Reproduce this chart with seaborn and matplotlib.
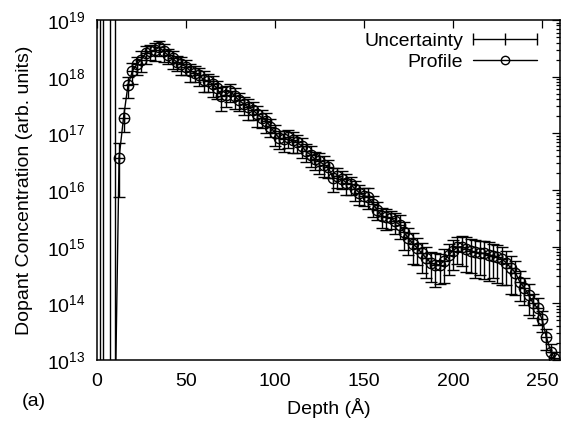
import numpy as np
import pandas as pd
import matplotlib
matplotlib.use("Agg")
import matplotlib.pyplot as plt
import seaborn as sns
from matplotlib.lines import Line2D
from matplotlib.legend_handler import HandlerLine2D
from matplotlib.ticker import NullFormatter

# ---- data ----
depth = [1.7, 3.5, 7.3, 10.1,
         12.4, 14.9, 17.4, 19.9, 22.4, 24.9, 27.4, 29.9, 32.4, 34.9,
         37.4, 39.9, 42.4, 44.9, 47.4, 49.9, 52.4, 54.9, 57.4, 59.9,
         62.4, 64.9, 67.4, 69.9, 72.4, 74.9, 77.4, 79.9, 82.4, 84.9,
         87.4, 89.9, 92.4, 94.9, 97.4, 99.9, 102.4, 104.9, 107.4, 109.9,
         112.4, 114.9, 117.4, 119.9, 122.4, 124.9, 127.4, 129.9, 132.4, 134.9,
         137.4, 139.9, 142.4, 144.9, 147.4, 149.9, 152.4, 154.9, 157.4, 159.9,
         162.4, 164.9, 167.4, 169.9, 172.4, 174.9, 177.4, 179.9, 182.4, 184.9,
         187.4, 189.9, 192.4, 194.9, 197.4, 199.9, 202.4, 204.9, 207.4, 209.9,
         212.4, 214.9, 217.4, 219.9, 222.4, 224.9, 227.4, 229.9, 232.4, 234.9,
         237.4, 239.9, 242.4, 244.9, 247.4, 249.9, 252.4, 254.9, 256.9]

conc = [1e12, 1e12, 1e12, 1e12,
        3.7e16, 1.9e17, 7.1e17, 1.26e18, 1.66e18, 2.0e18, 2.6e18, 2.8e18, 2.95e18, 3.3e18,
        2.8e18, 2.4e18, 2.1e18, 1.8e18, 1.66e18, 1.5e18, 1.26e18, 1.17e18, 1.05e18, 8.9e17,
        8.3e17, 7.4e17, 6.3e17, 4.5e17, 4.8e17, 5.5e17, 4.5e17, 3.8e17, 3.3e17, 2.9e17,
        2.6e17, 2.2e17, 1.9e17, 1.66e17, 1.32e17, 1.0e17, 8.3e16, 7.9e16, 8.5e16, 7.6e16,
        6.9e16, 6.0e16, 4.8e16, 4.2e16, 3.5e16, 3.2e16, 2.8e16, 2.5e16, 1.66e16, 1.78e16,
        1.58e16, 1.35e16, 1.26e16, 1.05e16, 8.9e15, 7.9e15, 7.6e15, 5.6e15, 4.5e15, 3.5e15,
        3.3e15, 3.2e15, 2.8e15, 2.45e15, 1.78e15, 1.41e15, 1.12e15, 9.5e14, 7.6e14, 6.3e14,
        5.2e14, 4.8e14, 4.8e14, 5.6e14, 7.1e14, 8.5e14, 9.8e14, 1.0e15, 9.1e14, 8.5e14,
        7.9e14, 7.8e14, 7.6e14, 7.2e14, 6.9e14, 6.6e14, 6.0e14, 5.2e14, 4.2e14, 3.5e14,
        2.4e14, 1.9e14, 1.41e14, 1.0e14, 8.3e13, 5.2e13, 2.5e13, 1.4e13, 1.07e13]

rel_err = [1e8, 1e8, 1e8, 1e8,
           0.8, 0.45, 0.4, 0.4, 0.35, 0.4, 0.35, 0.3, 0.35, 0.3,
           0.35, 0.3, 0.35, 0.3, 0.35, 0.3, 0.35, 0.3, 0.35, 0.4,
           0.35, 0.4, 0.35, 0.45, 0.4, 0.35, 0.4, 0.35, 0.35, 0.4,
           0.35, 0.4, 0.35, 0.4, 0.35, 0.4, 0.35, 0.4, 0.35, 0.4,
           0.35, 0.4, 0.35, 0.4, 0.35, 0.4, 0.4, 0.35, 0.45, 0.4,
           0.35, 0.4, 0.35, 0.4, 0.4, 0.35, 0.4, 0.4, 0.35, 0.4,
           0.4, 0.35, 0.4, 0.45, 0.5, 0.5, 0.55, 0.5, 0.55, 0.55,
           0.55, 0.6, 0.55, 0.6, 0.55, 0.55, 0.5, 0.55, 0.6, 0.6,
           0.65, 0.6, 0.65, 0.65, 0.6, 0.65, 0.65, 0.6, 0.65, 0.6,
           0.55, 0.5, 0.55, 0.45, 0.5, 0.4, 0.4, 0.35, 0.3]

x_ticks = [0, 50, 100, 150, 200, 250]
y_exponents = [13, 14, 15, 16, 17, 18, 19]
x_label = "Depth (Å)"
y_label = "Dopant Concentration (arb. units)"
panel_label = "(a)"

df = pd.DataFrame({"depth": depth, "conc": conc, "rel": rel_err})
df["err"] = df["conc"] * df["rel"]

# ---- style ----
sns.set_style("white")
plt.rcParams["font.family"] = ["Liberation Sans", "DejaVu Sans"]
plt.rcParams["mathtext.default"] = "regular"
plt.rcParams["font.size"] = 14
plt.rcParams["text.color"] = "black"
plt.rcParams["axes.labelcolor"] = "black"
plt.rcParams["xtick.color"] = "black"
plt.rcParams["ytick.color"] = "black"

fig = plt.figure(figsize=(5.66, 4.21), dpi=100)
ax = fig.add_axes([97 / 566, 1 - 360 / 421, 463 / 566, 340 / 421])

ax.set_yscale("log")

# uncertainty (error bars with '+' points)
ax.errorbar(df["depth"], df["conc"], yerr=df["err"], fmt="+", color="black",
            ms=7.5, mew=1.0, elinewidth=1.0, capsize=4.3, capthick=1.0, zorder=2)

# profile line with open circles
sns.lineplot(data=df, x="depth", y="conc", ax=ax, color="black", lw=1.0,
             marker="o", ms=7.5, mfc="none", mec="black", mew=1.0,
             estimator=None, sort=True, legend=False, zorder=3)

ax.set_xlim(0, 260)
ax.set_ylim(1e13, 1e19)
ax.set_xticks(x_ticks)
ax.set_xticklabels([str(t) for t in x_ticks])
ax.set_yticks([10.0 ** e for e in y_exponents])
ax.set_yticklabels([f"$10^{{{e}}}$" for e in y_exponents])
minor_y = [m * 10.0 ** e for e in y_exponents[:-1] for m in range(2, 10)]
ax.set_yticks(minor_y, minor=True)
ax.yaxis.set_minor_formatter(NullFormatter())
ax.xaxis.set_minor_formatter(NullFormatter())

for s in ax.spines.values():
    s.set_color("black")
    s.set_linewidth(1.1)

ax.tick_params(axis="both", which="both", direction="in", top=True, right=True,
               colors="black", labelsize=14)
ax.tick_params(axis="both", which="major", length=6, width=0.9)
ax.tick_params(axis="y", which="minor", length=3, width=0.9)
ax.tick_params(axis="x", which="minor", bottom=False, top=False)
ax.tick_params(axis="x", which="major", pad=9)
ax.tick_params(axis="y", which="major", pad=8)

ax.set_xlabel(x_label, fontsize=14, color="black")
ax.set_ylabel(y_label, fontsize=14, color="black")
ax.xaxis.set_label_coords(0.5, -0.112)
ax.yaxis.set_label_coords(-0.138, 0.5)

fig.text(22 / 566, 1 - 402 / 421, panel_label, fontsize=14, va="center", ha="left",
         color="black")

# legend in gnuplot style
h_unc = Line2D([], [], color="black", lw=1.0, marker="|", ms=8, mew=1.0)
h_prof = Line2D([], [], color="black", lw=1.0, marker="o", ms=6, mfc="none", mew=1.0)
leg = ax.legend([h_unc, h_prof], ["Uncertainty", "Profile"],
                handler_map={h_unc: HandlerLine2D(numpoints=3, marker_pad=0.0),
                             h_prof: HandlerLine2D(numpoints=1)},
                loc="upper right", bbox_to_anchor=(0.950, 0.965),
                frameon=False, markerfirst=False, handlelength=3.3,
                handletextpad=0.5, labelspacing=0.2, borderpad=0,
                borderaxespad=0, fontsize=14, labelcolor="black")
for t in leg.get_texts():
    t.set_ha("right")

fig.savefig("out.png", dpi=100)
